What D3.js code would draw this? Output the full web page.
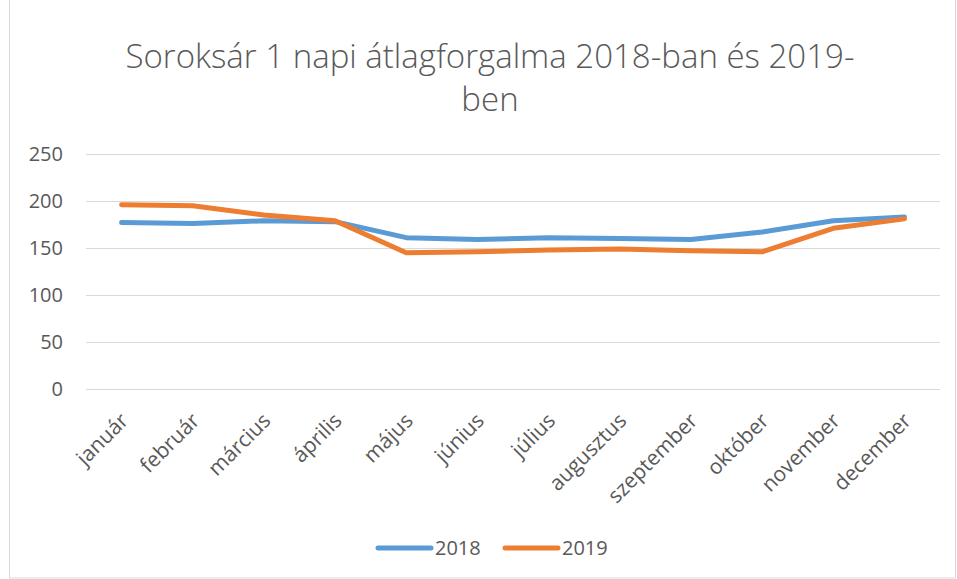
<!DOCTYPE html>
<html>
<head>
<meta charset="utf-8">
<script src="https://cdn.jsdelivr.net/npm/d3@7"></script>
<style>
  body { margin: 0; background: #fff; }
  text { font-family: "Open Sans", sans-serif; fill: #595959; }
</style>
</head>
<body>
<div id="chart"></div>
<script>
// data
let months = ['január', 'február', 'március', 'április', 'május', 'június',
    'július', 'augusztus', 'szeptember', 'október', 'november', 'december'];
let values2018 = [177, 176, 179, 178, 161, 159, 161, 160, 159, 167, 179, 183];
let values2019 = [196, 195, 185, 179, 145, 146, 148, 149, 147, 146, 171, 181];
let yTicks = [0, 50, 100, 150, 200, 250];
let seriesNames = ['2018', '2019'];
let seriesColors = ['#5B9BD5', '#ED7D31'];

let width = 957,
    height = 579;

let svg = d3.select('#chart').append('svg')
    .attr('width', width)
    .attr('height', height);

// chart frame
svg.append('rect')
    .attr('x', 9.5).attr('y', -1)
    .attr('width', 946).attr('height', 579)
    .style('fill', 'none')
    .style('stroke', '#d9d9d9');

// title
let title = svg.append('text')
    .attr('text-anchor', 'middle')
    .style('font-size', '33px')
    .style('font-weight', 300);
title.append('tspan').attr('x', 490).attr('y', 68)
    .text('Soroksár 1 napi átlagforgalma 2018-ban és 2019-');
title.append('tspan').attr('x', 490).attr('y', 111)
    .text('ben');

//----------------------------------------
// scales
let x = d3.scaleBand()
    .domain(months)
    .range([86, 940]);

let y = d3.scaleLinear()
    .domain([0, 250])
    .range([389, 154]);

// gridlines
svg.append('g')
    .selectAll('line')
    .data(yTicks)
    .enter()
    .append('line')
    .attr('x1', 86).attr('x2', 940)
    .attr('y1', d => Math.round(y(d)) + 0.5)
    .attr('y2', d => Math.round(y(d)) + 0.5)
    .style('stroke', '#d9d9d9')
    .style('stroke-width', 1);

// y axis labels
let yAxis = svg.append('g')
    .attr('transform', 'translate(63,0)')
    .call(d3.axisLeft(y).tickValues(yTicks).tickSize(0).tickPadding(0));
yAxis.select('.domain').remove();
yAxis.selectAll('text')
    .style('font-size', '20px')
    .style('fill', '#595959')
    .style('font-family', '"Open Sans", sans-serif');

// x axis labels, rotated
let xAxis = svg.append('g')
    .attr('transform', 'translate(0,389)')
    .call(d3.axisBottom(x).tickSize(0).tickPadding(0));
xAxis.select('.domain').remove();
xAxis.selectAll('text')
    .attr('text-anchor', 'end')
    .attr('dy', 0)
    .attr('transform', 'translate(8,33) rotate(-45)')
    .style('font-size', '21px')
    .style('fill', '#595959')
    .style('font-family', '"Open Sans", sans-serif');

//----------------------------------------
// lines
let line = d3.line()
    .x((d, i) => x(months[i]) + x.bandwidth() / 2)
    .y(d => y(d));

[values2018, values2019].forEach(function(vals, i) {
    svg.append('path')
        .datum(vals)
        .attr('d', line)
        .style('fill', 'none')
        .style('stroke', seriesColors[i])
        .style('stroke-width', 5)
        .style('stroke-linecap', 'round')
        .style('stroke-linejoin', 'round');
});

//----------------------------------------
// legend
let legend = svg.append('g');
seriesNames.forEach(function(name, i) {
    let lx = 378 + i * 127;
    legend.append('line')
        .attr('x1', lx).attr('x2', lx + 53)
        .attr('y1', 548).attr('y2', 548)
        .style('stroke', seriesColors[i])
        .style('stroke-width', 5)
        .style('stroke-linecap', 'round');
    legend.append('text')
        .attr('x', lx + 57).attr('y', 555)
        .style('font-size', '20px')
        .text(name);
});
</script>
</body>
</html>
